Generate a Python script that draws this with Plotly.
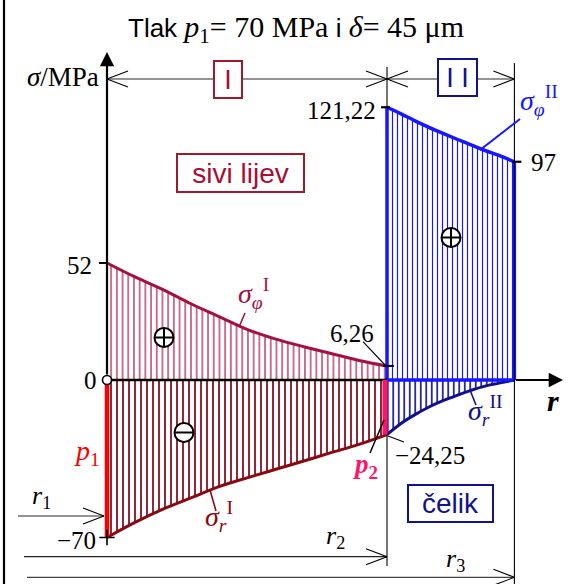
import plotly.graph_objects as go

# ---------------- data ----------------
r1, r2, r3 = 1.0, 2.0, 2.455          # radii (schematic units, r1 = 1)
r_I = [1.0, 1.1, 1.2, 1.3, 1.4, 1.5, 1.6, 1.7, 1.8, 1.9, 2.0]
sphi_I = [52, 45.8, 40.2, 33.9, 28.2, 22.5, 18.3, 14.9, 11.8, 8.7, 6.26]
sr_I = [-70, -63.3, -57.4, -52.4, -47.4, -43.5, -39.8, -36.1, -32.3, -28.6, -24.25]
r_II = [2.0, 2.05, 2.1, 2.15, 2.2, 2.25, 2.3, 2.35, 2.4, 2.455]
sphi_II = [121.22, 118.3, 115.2, 112.3, 109.6, 107.0, 104.5, 102.0, 99.8, 97]
sr_II = [-24.25, -19.3, -15.4, -12.0, -9.2, -6.8, -4.6, -2.7, -1.4, 0]


def fmt(v):
    s = ("%.2f" % abs(v)).rstrip("0").rstrip(".").replace(".", ",")
    return ("\u2212" if v < 0 else "") + s


# ---------------- style ----------------
SERIF = "Liberation Serif"
SANS = "Liberation Sans"
C_PHI1 = "#a3123f"
C_PHI1_H = "#ad1f4a"
C_R1 = "#860a12"
C_R1_H = "#7a0014"
C_PHI2 = "#1717ff"
C_R2 = "#10108c"
C_P1 = "#ff0000"
C_P2 = "#ff1466"
C_BOX1 = "#9e1a2a"
C_TXT1 = "#a80d35"
C_BOX2 = "#12128c"
GRAY = "#707070"

W, H = 574, 584
PXR, PXS = 280.0, 2.25      # px per r-unit, px per MPa
OX, OY = 107.0, 380.0       # pixel position of (r1, 0)


def X(px):
    return r1 + (px - OX) / PXR


def Y(py):
    return (OY - py) / PXS


def dx(p):
    return p / PXR


def dy(p):
    return p / PXS


def hatch(color, size, solid):
    return dict(shape="|", size=size, solidity=solid, fgcolor=color,
                bgcolor="rgba(0,0,0,0)", fillmode="replace")


fig = go.Figure()
NOFILL = "rgba(0,0,0,0)"

fig.add_trace(go.Scatter(x=r_I, y=sphi_I, mode="lines",
                         line=dict(color=C_PHI1, width=3, shape="spline"),
                         fill="tozeroy", fillcolor=NOFILL,
                         fillpattern=hatch(C_PHI1_H, 5.7, 0.22)))
fig.add_trace(go.Scatter(x=r_I, y=sr_I, mode="lines",
                         line=dict(color=C_R1, width=3, shape="spline"),
                         fill="tozeroy", fillcolor=NOFILL,
                         fillpattern=hatch(C_R1_H, 6, 0.28)))
fig.add_trace(go.Scatter(x=r_II, y=sphi_II, mode="lines",
                         line=dict(color=C_PHI2, width=3.5, shape="spline"),
                         fill="tozeroy", fillcolor=NOFILL,
                         fillpattern=hatch(C_PHI2, 5, 0.24)))
fig.add_trace(go.Scatter(x=r_II, y=sr_II, mode="lines",
                         line=dict(color=C_R2, width=3, shape="spline"),
                         fill="tozeroy", fillcolor=NOFILL,
                         fillpattern=hatch(C_R2, 5.5, 0.3)))
# blue outline of the steel sigma_phi region
fig.add_trace(go.Scatter(x=[r2, r2, None, r3, r3, None, r2, r3],
                         y=[0, sphi_II[0], None, sphi_II[-1], 0, None, 0, 0],
                         mode="lines", line=dict(color=C_PHI2, width=3.5)))
# r-axis (black part)
fig.add_trace(go.Scatter(x=[r1, r2], y=[0, 0], mode="lines",
                         line=dict(color="black", width=2.5)))
# pressure bars p1, p2
fig.add_trace(go.Scatter(x=[r1, r1], y=[0, sr_I[0]], mode="lines",
                         line=dict(color=C_P1, width=4.5)))
fig.add_trace(go.Scatter(x=[r2 - dx(2), r2 - dx(2)], y=[0, sr_I[-1]], mode="lines",
                         line=dict(color=C_P2, width=5)))
# tick cross at -70
fig.add_trace(go.Scatter(x=[r1], y=[sr_I[0]], mode="markers",
                         marker=dict(symbol="cross-thin", size=11,
                                     line=dict(color="black", width=1.6))))
# origin circle
fig.add_trace(go.Scatter(x=[r1], y=[0], mode="markers",
                         marker=dict(symbol="circle", size=9, color="white",
                                     line=dict(color="black", width=1.6))))
# sign circles
sx = [X(164), X(451), X(184)]
sy = [Y(337.5), Y(237.5), Y(432.5)]
fig.add_trace(go.Scatter(x=sx, y=sy, mode="markers",
                         marker=dict(symbol="circle", size=19, color="white",
                                     line=dict(color="black", width=2))))
fig.add_trace(go.Scatter(x=sx[:2], y=sy[:2], mode="markers",
                         marker=dict(symbol="cross-thin", size=13,
                                     line=dict(color="black", width=2))))
fig.add_trace(go.Scatter(x=sx[2:], y=sy[2:], mode="markers",
                         marker=dict(symbol="line-ew", size=13,
                                     line=dict(color="black", width=2))))

shapes = []


def seg(x0, y0, x1, y1, color="black", width=1.2):
    shapes.append(dict(type="line", xref="x", yref="y", x0=x0, y0=y0, x1=x1, y1=y1,
                       line=dict(color=color, width=width), layer="above"))


# top dimension line
yd = Y(79)
seg(r1, yd, r3, yd, GRAY, 1.6)
for xa, s in [(r1, 1), (r2, -1), (r2, 1), (r3, -1)]:
    seg(xa, yd, xa + s * dx(21), yd + dy(8), "black", 1.1)
    seg(xa, yd, xa + s * dx(21), yd - dy(8), "black", 1.1)
seg(r2, Y(67), r2, sphi_II[0], "black", 1.1)
seg(r3, Y(63), r3, Y(H), "black", 1.1)
seg(r2, sr_I[-1], r2, Y(566), "black", 1.1)

# bottom radius arrows
for xs, xe, ypx, col in [(X(18), r1 - dx(3), 516, GRAY), (X(24), r2, 556.7, "#222222"),
                         (X(27), r3, 577.3, "#444444")]:
    yy = Y(ypx)
    seg(xs, yy, xe, yy, col, 1.3)
    seg(xe, yy, xe - dx(21), yy + dy(8), "black", 1.1)
    seg(xe, yy, xe - dx(21), yy - dy(8), "black", 1.1)

# value ticks
seg(X(99), sphi_I[0], r1 + dx(1), sphi_I[0], "black", 2)
seg(r2 - dx(6), sphi_II[0], r2 + dx(3), sphi_II[0], "black", 2.2)
seg(r3 - dx(2), sphi_II[-1], r3 + dx(7), sphi_II[-1], "black", 2.2)
seg(r2 - dx(4), sphi_I[-1], r2 + dx(7), sphi_I[-1], "black", 2)

# leader lines
seg(X(363), Y(341.7), X(385), Y(365), "black", 1.1)
seg(X(388), Y(436), X(404), Y(442), "black", 1.1)
seg(X(384), Y(420), X(370), Y(453), "black", 1.5)
seg(X(520), Y(119), X(480), Y(150), C_PHI2, 2)
seg(X(245), Y(313), X(239), Y(327), C_PHI1, 1.6)
seg(X(210), Y(490), X(216), Y(511), C_R1, 1.6)
seg(X(470), Y(390), X(476), Y(405), C_R2, 1.6)

# left frame line
seg(X(4), Y(0), X(4), Y(H), "black", 2.2)

ann = []


def txt(xpx, ypx, text, size, color="black", family=SERIF, xanchor="center",
        yanchor="middle", **kw):
    d = dict(x=X(xpx), y=Y(ypx), xref="x", yref="y", text=text, showarrow=False,
             font=dict(family=family, size=size, color=color), xanchor=xanchor,
             yanchor=yanchor)
    d.update(kw)
    ann.append(d)


def sans(t):
    return '<span style="font-family:Liberation Sans;font-size:26px">' + t + '</span>'


def serif(t):
    return '<span style="font-family:Liberation Serif">' + t + '</span>'


txt(296, 29, sans("Tlak ") + serif("<i>p</i><sub>1</sub>= 70 MPa") + sans(" i ") +
    serif("<i>\u03b4</i>= 45 \u03bcm"), 30)
txt(101, 77, serif("<i>\u03c3</i>/MPa"), 27, xanchor="right")
txt(94, 265, fmt(sphi_I[0]), 25, xanchor="right")
txt(99, 380, "0", 25, xanchor="right")
txt(98, 540, fmt(sr_I[0]), 25, xanchor="right")
txt(378, 110, fmt(sphi_II[0]), 25, xanchor="right")
txt(529, 162, fmt(sphi_II[-1]), 25, xanchor="left")
txt(352, 333, fmt(sphi_I[-1]), 25)
txt(430, 455, fmt(sr_II[0]), 25)

txt(518, 100, "<i>\u03c3</i><sub><i>\u03c6</i></sub><sup>II</sup>", 28, C_PHI2, xanchor="left")
txt(236, 293, "<i>\u03c3</i><sub><i>\u03c6</i></sub><sup>I</sup>", 28, C_PHI1, xanchor="left")
txt(203, 516, "<i>\u03c3</i><sub><i>r</i></sub><sup>I</sup>", 28, C_R1, xanchor="left")
txt(466, 410, "<i>\u03c3</i><sub><i>r</i></sub><sup>II</sup>", 28, C_R2, xanchor="left")

txt(87, 452, "<i>p</i><sub>1</sub>", 28, C_P1)
txt(365, 466, "<b><i>p</i><sub>2</sub></b>", 27, C_P2)
txt(553, 400, "<b><i>r</i></b>", 30)
txt(41, 497, "<i>r</i><sub>1</sub>", 26)
txt(335, 537, "<i>r</i><sub>2</sub>", 26)
txt(455, 560, "<i>r</i><sub>3</sub>", 26)

# boxed labels
txt(228, 79.5, "I", 27, C_TXT1, SANS, bordercolor=C_BOX1, borderwidth=2, borderpad=0,
    bgcolor="white", width=26, height=35)
txt(457.5, 77.5, "I I", 27, C_BOX2, SANS, bordercolor=C_BOX2, borderwidth=2, borderpad=0,
    bgcolor="white", width=37, height=35)
txt(240.4, 173, "sivi lijev", 28, C_TXT1, SANS, bordercolor=C_BOX1, borderwidth=2,
    borderpad=0, bgcolor="white", width=125, height=36)
txt(450, 503.7, "\u010delik", 28, C_BOX2, SANS, bordercolor=C_BOX2, borderwidth=2,
    borderpad=0, bgcolor="white", width=83, height=35)

# axis arrows
ann.append(dict(x=r1, y=Y(52), ax=r1, ay=Y(376), xref="x", yref="y", axref="x", ayref="y",
                text="", showarrow=True, arrowhead=2, arrowsize=1.3, arrowwidth=2.2,
                arrowcolor="black"))
ann.append(dict(x=X(563), y=0, ax=r3, ay=0, xref="x", yref="y", axref="x", ayref="y",
                text="", showarrow=True, arrowhead=2, arrowsize=1.3, arrowwidth=2.2,
                arrowcolor="black"))

fig.update_layout(
    width=W, height=H, margin=dict(l=0, r=0, t=0, b=0, pad=0),
    paper_bgcolor="white", plot_bgcolor="white", showlegend=False,
    xaxis=dict(range=[X(0), X(W)], visible=False, fixedrange=True),
    yaxis=dict(range=[Y(H), Y(0)], visible=False, fixedrange=True),
    shapes=shapes, annotations=ann,
    font=dict(family=SERIF),
)
fig.write_html("out.html", config=dict(displayModeBar=False),
               post_script="document.body.style.margin='0';")
